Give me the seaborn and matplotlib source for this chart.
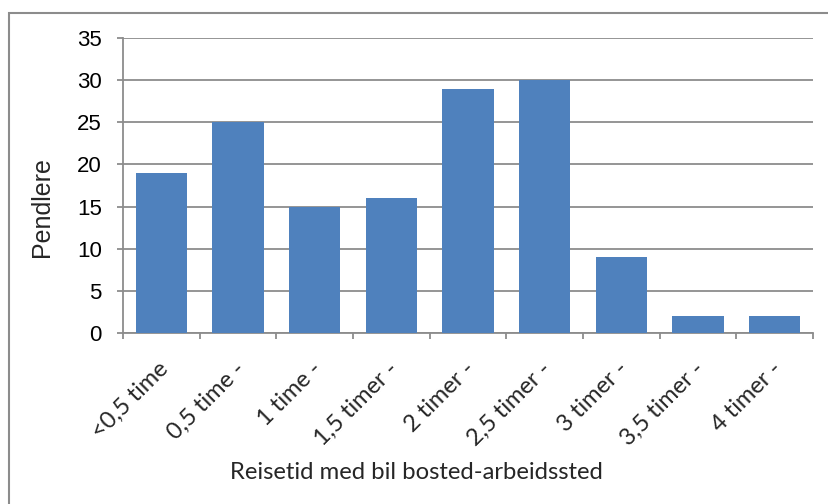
import matplotlib
matplotlib.use("Agg")
import matplotlib.pyplot as plt
from matplotlib.patches import Rectangle
from matplotlib.transforms import ScaledTranslation
import seaborn as sns
import pandas as pd

categories = ["<0,5 time", "0,5 time -", "1 time -", "1,5 timer -", "2 timer -",
              "2,5 timer -", "3 timer -", "3,5 timer -", "4 timer -"]
pendlere = [19, 25, 15, 16, 29, 30, 9, 2, 2]
y_ticks = [0, 5, 10, 15, 20, 25, 30, 35]

df = pd.DataFrame({"kategori": categories, "pendlere": pendlere})

sns.set_theme(style="white")
plt.rcParams["font.family"] = ["Lato", "DejaVu Sans"]

W, H = 829, 504
fig = plt.figure(figsize=(W / 100, H / 100), dpi=100)
fig.patch.set_facecolor("white")

# outer chart frame
fig.add_artist(Rectangle((9 / W, -0.05), 1.2, 1 - 13 / H + 0.05, transform=fig.transFigure,
                         fill=False, edgecolor="#8c8c8c", linewidth=1.5, zorder=0))

ax = fig.add_axes([123 / W, 1 - 333 / H, (813 - 123) / W, (333 - 38) / H])
sns.barplot(data=df, x="kategori", y="pendlere", color="#4f81bd", width=0.667,
            saturation=1, linewidth=0, ax=ax, zorder=3)

ax.set_xlim(-0.5, len(categories) - 0.5)
ax.set_ylim(0, 35)
ax.set_yticks(y_ticks)
ax.set_yticklabels([str(t) for t in y_ticks], fontfamily="Liberation Sans", fontsize=16)
ax.yaxis.grid(True, color="#8c8c8c", linewidth=1.3, zorder=0)
ax.set_axisbelow(True)

for s in ["top", "right"]:
    ax.spines[s].set_visible(False)
for s in ["left", "bottom"]:
    ax.spines[s].set_color("#8c8c8c")
    ax.spines[s].set_linewidth(1.3)

ax.tick_params(axis="y", which="both", left=True, length=4.3, width=1.3, color="#8c8c8c",
               pad=11, labelcolor="black")

# category boundary ticks on the x axis
ax.set_xticks([i - 0.5 for i in range(len(categories) + 1)], minor=False)
ax.set_xticklabels([""] * (len(categories) + 1))
ax.tick_params(axis="x", which="major", bottom=True, length=4.3, width=1.3, color="#8c8c8c")
ax.set_xticks(range(len(categories)), minor=True)
ax.set_xticklabels(categories, minor=True, rotation=45, ha="right", rotation_mode="anchor",
                   fontsize=17)
ax.tick_params(axis="x", which="minor", bottom=False, length=0, pad=18)
shift = ScaledTranslation(-4 / 100, 0, fig.dpi_scale_trans)
for lbl in ax.get_xticklabels(minor=True):
    lbl.set_transform(lbl.get_transform() + shift)

ax.set_xlabel("Reisetid med bil bosted-arbeidssted", fontsize=17.2)
ax.xaxis.set_label_coords((416 - 123) / 690, (333 - 462) / 295)
ax.set_ylabel("Pendlere", fontfamily="Liberation Sans", fontsize=18)
ax.yaxis.set_label_coords((54 - 123) / 690, (333 - 207) / 295)

fig.savefig("out.png", dpi=100, facecolor="white")
